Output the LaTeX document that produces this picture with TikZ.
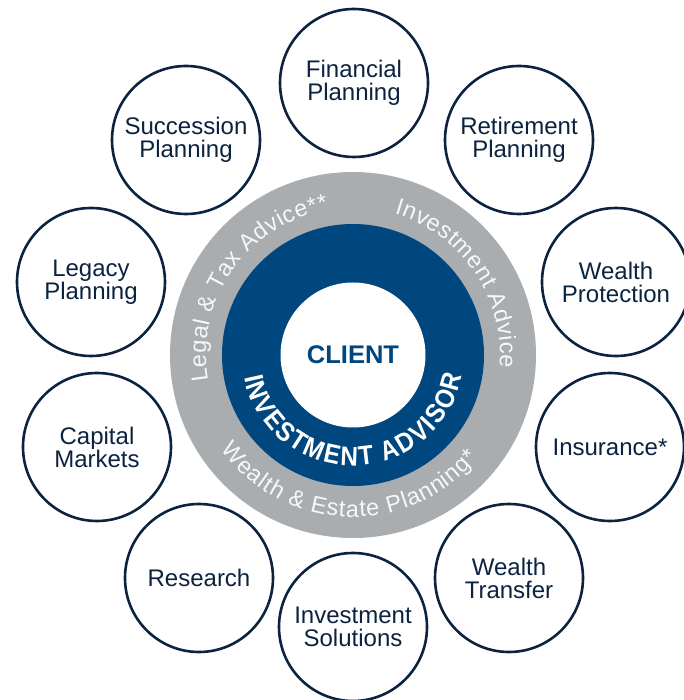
\documentclass[tikz,border=0pt]{standalone}
\usepackage{fontspec}
\setmainfont{Liberation Sans}
\newfontfamily\advfont{Liberation Sans}[FakeStretch=0.9]
\usetikzlibrary{decorations.text}
\definecolor{navyline}{RGB}{12,35,64}
\definecolor{advblue}{RGB}{0,70,127}
\definecolor{ringgray}{RGB}{169,173,176}
\definecolor{ringtext}{RGB}{246,247,248}
\newcommand{\svcfont}{\fontsize{24}{23}\selectfont}
\newcommand{\ringfont}{\fontsize{23.5}{24}\selectfont}
\tikzset{
  svc/.style={circle, draw=navyline, line width=2.6pt, fill=white,
    minimum size=148pt, inner sep=0pt, align=center, font=\svcfont, text=navyline},
  ringlabel/.style={decorate, decoration={text along path, text align=center,
    text={#1}}},
}
\begin{document}
\begin{tikzpicture}[x=1pt,y=1pt]
\useasboundingbox (-353,-345) rectangle (330,355);
% central rings
\node (ring) [circle, fill=ringgray, minimum size=366pt, inner sep=0pt] at (0,0) {};
\node (advisor) [circle, fill=advblue, minimum size=262pt, inner sep=0pt] at (0,0) {};
\node (client) [circle, fill=white, minimum size=145pt, inner sep=0pt,
  text=advblue, font=\fontsize{25.5}{25}\selectfont\bfseries] at (0,0) {CLIENT};
% ring texts
\path[ringlabel={|\ringfont\color{ringtext}\kern0.6pt|Legal {\&} Tax Advice**}]
  (215:147) arc[start angle=215, end angle=75, radius=147];
\path[ringlabel={|\ringfont\color{ringtext}\kern0.6pt|Investment Advice}]
  (104.5:147) arc[start angle=104.5, end angle=-35.5, radius=147];
\path[ringlabel={|\ringfont\color{ringtext}\kern0.9pt|Wealth {\&} Estate Planning*}]
  (198:162) arc[start angle=198, end angle=338, radius=162];
\path[ringlabel={|\advfont\fontsize{27}{27}\selectfont\bfseries\color{white}\kern1.9pt|INVESTMENT ADVISOR}]
  (180:111) arc[start angle=180, end angle=360, radius=111];
% service circles
\node (fin) [svc] at (1,272) {Financial\\Planning};
\node (suc) [svc] at (-167,215) {Succession\\Planning};
\node (ret) [svc] at (166,215) {Retirement\\Planning};
\node (leg) [svc] at (-262,73) {Legacy\\Planning};
\node (wp)  [svc] at (263,73) {Wealth\\Protection};
\node (cap) [svc] at (-256,-92) {Capital\\Markets};
\node (ins) [svc] at (257,-92) {Insurance*};
\node (res) [svc] at (-154,-223) {Research};
\node (wt)  [svc] at (156,-223) {Wealth\\Transfer};
\node (is)  [svc] at (0,-272) {Investment\\Solutions};
\end{tikzpicture}
\end{document}
